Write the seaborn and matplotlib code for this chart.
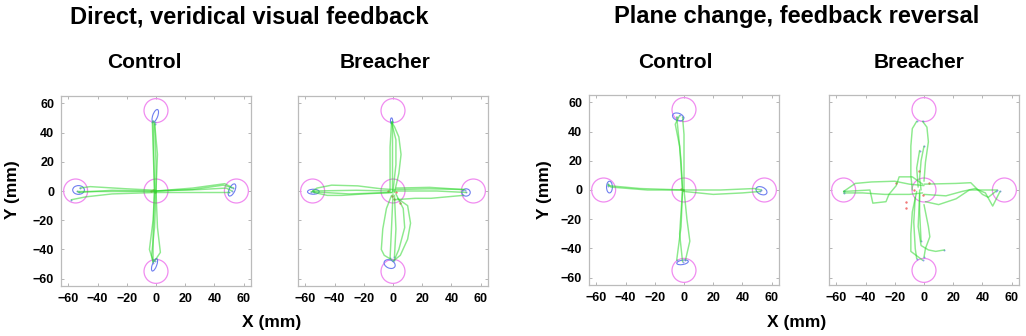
import numpy as np
import pandas as pd
import matplotlib
matplotlib.use("Agg")
import matplotlib.pyplot as plt
from matplotlib.patches import Circle, Ellipse
import seaborn as sns

# ---------------- data (in mm) ----------------
PANEL_TITLES = ["Control", "Breacher", "Control", "Breacher"]
GROUP_TITLES = ["Direct, veridical visual feedback", "Plane change, feedback reversal"]
TICKS = [-60, -40, -20, 0, 20, 40, 60]

# target circles: centres and radius
TARGET_X = [0, 0, 0, -55, 55]
TARGET_Y = [0, 55, -55, 0, 0]
TARGET_R = 8.2

# trajectories per panel: list of polylines [(x, y), ...]
traj_ctrl_direct = [
    [(-1, 0), (-1.5, 25), (-2, 48)],
    [(0, 0), (0, 20), (-1, 46)],
    [(-1, 0), (-2, 30), (-2.5, 47)],
    [(0, 0), (1, 25), (-1, 47)],
    [(-1, 0), (-2, -20), (-4.5, -40), (-2, -48)],
    [(0, 0), (1, -25), (3, -42), (-1, -48)],
    [(-1, 0), (-2, -30), (-2, -47)],
    [(0, 0), (-1, -25), (-3, -44), (-2, -49)],
    [(0, 0), (-25, 0), (-50, 0), (-54, 0)],
    [(0, 0.5), (-20, 1.5), (-45, 3), (-52, 2)],
    [(0, -1), (-30, -2), (-48, -4), (-58, -6)],
    [(-1, 0), (-30, 0.5), (-53, -1)],
    [(0, 0), (25, 2), (47, 5), (51, 3)],
    [(0, 0), (30, 1), (48, 2), (52, 0)],
    [(0, -1), (30, -1), (50, -1)],
    [(-1, 0), (25, 1), (46, 4), (53, 2)],
]
traj_breach_direct = [
    [(-1, 0), (-1, 25), (-1, 48)],
    [(1, -1), (4, 12), (5.5, 25), (4, 37), (1, 44), (-1, 47)],
    [(0, 0), (2, 18), (2, 35), (-1, 47)],
    [(-2, 0), (-2, 30), (-1, 47)],
    [(-1, -3), (-4.5, -12), (-7, -26), (-8, -40), (-6, -44), (-1, -47)],
    [(3, -5), (10, -10), (12, -22), (10, -33), (5, -44), (0, -48)],
    [(1, -3), (2, -26), (1, -45)],
    [(0, -2), (-1, -25), (-2, -46)],
    [(2, -2), (7, -12), (8, -25), (4, -40), (1, -47)],
    [(0, 1), (-8, 1.5), (-24, 3.5), (-42, 4), (-52, 2), (-55, 0)],
    [(0, -1), (-20, -2), (-35, -3), (-45, -3), (-54, -1)],
    [(-2, 0), (-25, 0.5), (-55, 0)],
    [(-1, -1), (-30, -2), (-56, -0.5)],
    [(1, -6), (15, -5), (26, -5), (48, -3)],
    [(1, 1), (25, 1.5), (49, 1)],
    [(0, 0), (30, 0), (50, -1)],
    [(2, 2), (25, 2.5), (48, 1)],
]
traj_ctrl_rev = [
    [(-1, 0), (-2, 20), (-4, 40), (-5, 50)],
    [(0, 0), (0, 25), (0, 38), (-1, 50)],
    [(-1, 0), (-3, 30), (-6, 45), (-3, 51)],
    [(-1, 0), (-2, -25), (-5, -48)],
    [(0, 0), (2, -20), (4, -35), (1, -48)],
    [(-1, 0), (-3, -30), (-1, -49)],
    [(-1, 0), (-25, 0), (-50, 2), (-52, 4)],
    [(0, 0), (-30, 1), (-52, 3)],
    [(0, 0), (25, 0), (48, 1), (53, 0)],
    [(0, -1), (20, -3), (40, -2), (52, -1)],
]
traj_breach_rev = [
    [(-8, 0), (-9, 10), (-9, 30), (-8, 42), (-5, 47)],
    [(0, 6), (1, 19), (3, 33), (2, 43), (-1, 47)],
    [(-2, 0), (-3, 8), (-2, 20), (0, 30)],
    [(-4, 2), (-5, 15), (-3, 27)],
    [(0, 3), (-10, 4), (-20, 6), (-36, 5.5), (-47, 4.5), (-55, -1)],
    [(-1, 4), (-8, 9), (-17, 9), (-19, 3), (-24, -3), (-26, -8), (-35, -9), (-37, 0), (-55, -1)],
    [(-1, -2), (-10, -3), (-27, -3), (-42, -2), (-55, -2)],
    [(0, 4), (22, 4.5), (32, 5), (35, 2), (40, -3), (44, -5), (49, -1)],
    [(0, -3), (15, -4), (26, -1), (35, 1), (42, -2), (47, -11), (52, -1)],
    [(1, -8), (10, -10), (22, -6), (31, 0), (50, 0)],
    [(-5, -1), (-8, -15), (-9, -30), (-9, -42), (-5, -45), (-1, -48)],
    [(-3, -3), (-4, -25), (-2, -38), (3, -41), (8, -42), (14, -41)],
    [(0, -10), (3, -25), (4, -32), (1, -40), (0, -46)],
    [(-6, -5), (-7, -22), (-6, -40), (-5, -47)],
    [(-3, 0), (-3, -15), (-2, -35)],
]
TRAJ = [traj_ctrl_direct, traj_breach_direct, traj_ctrl_rev, traj_breach_rev]

# endpoint ellipses per panel: (cx, cy, width, height, angle)
ell_ctrl_direct = [(-0.5, 51.5, 3.4, 9, -20), (-1, -50.5, 3, 9, -20), (-53, 0.7, 8, 6, 0), (52, 0.7, 4, 9, -25)]
ell_breach_direct = [(-1, 48, 1.5, 4, 0), (-2.3, -50, 8, 5.5, -25), (-54.5, -0.5, 8, 3.4, 0), (50, -1, 5.7, 5, 0)]
ell_ctrl_rev = [(-4, 50, 8, 5, -20), (-1, -49.5, 8, 3, 10), (-51, 2, 4, 8, 0), (53, -0.5, 8, 5, -25)]
ell_breach_rev = []
ELLIPSES = [ell_ctrl_direct, ell_breach_direct, ell_ctrl_rev, ell_breach_rev]

# start points (red) per panel
red_x = [[-3.4, -1, -2], [1, 4.6, -1, 2, -3.4], [-1, -2], [-3.4, -12.5, -19.4, -12.5, 3.4, -6.8, -1]]
red_y = [[0, -0.5, 1], [-5.7, -8, -3.4, -1, 0], [0, 1], [13, -12.5, 4.6, -8, 4.6, 0, -3.4]]

# ---------------- figure ----------------
sns.set_theme(style="white")
plt.rcParams["font.family"] = ["Liberation Sans", "DejaVu Sans"]
plt.rcParams["text.color"] = "black"

fig = plt.figure(figsize=(10.26, 3.36), dpi=100)
W, H = 1026, 336
boxes = [(61, 96), (298, 96), (589, 95), (829, 95)]
size = 190

for i, (lx, ty) in enumerate(boxes):
    ax = fig.add_axes([lx / W, 1 - (ty + size) / H, size / W, size / H])
    rows = []
    for k, tr in enumerate(TRAJ[i]):
        for (x, y) in tr:
            rows.append({"x": x, "y": y, "traj": k})
    df = pd.DataFrame(rows)
    sns.lineplot(data=df, x="x", y="y", units="traj", estimator=None, sort=False,
                 color="#2fd82f", alpha=0.55, lw=1.05, ax=ax, legend=False)
    for cx, cy in zip(TARGET_X, TARGET_Y):
        ax.add_patch(Circle((cx, cy), TARGET_R, fill=False, ec="#f08cf0", lw=0.9))
    for (cx, cy, w, h, a) in ELLIPSES[i]:
        ax.add_patch(Ellipse((cx, cy), w, h, angle=a, fill=False, ec="#6e7ef0", lw=0.8))
    ends = pd.DataFrame({"x": [tr[-1][0] for tr in TRAJ[i]], "y": [tr[-1][1] for tr in TRAJ[i]]})
    sns.scatterplot(data=ends, x="x", y="y", color="#7788ee", s=2, ax=ax, linewidth=0, alpha=0.8)
    reds = pd.DataFrame({"x": red_x[i], "y": red_y[i]})
    sns.scatterplot(data=reds, x="x", y="y", color="#ee5555", s=3, ax=ax, linewidth=0, alpha=0.8)

    ax.set_xlim(-65, 65)
    ax.set_ylim(-65, 65)
    ax.set_xticks(TICKS)
    ax.set_yticks(TICKS)
    ax.set_xlabel("")
    ax.set_ylabel("")
    ax.tick_params(direction="in", length=2, width=0.6, color="#aaaaaa", labelcolor="black",
                   labelsize=9, pad=5, bottom=True, left=True, top=True, right=True)
    for lab in ax.get_xticklabels() + ax.get_yticklabels():
        lab.set_fontweight("bold")
    if i in (1, 3):
        ax.set_yticklabels([])
    for s in ax.spines.values():
        s.set_color("#bbbbbb")
        s.set_linewidth(0.9)

# texts
fig.text(249 / W, 1 - 17 / H, GROUP_TITLES[0], ha="center", va="center", fontsize=17, fontweight="bold")
fig.text(797 / W, 1 - 17 / H, GROUP_TITLES[1], ha="center", va="center", fontsize=17, fontweight="bold")
for tx, t in zip([144.5, 385.5, 675.5, 919], PANEL_TITLES):
    fig.text(tx / W, 1 - 62 / H, t, ha="center", va="center", fontsize=15, fontweight="bold")
for yx in [13, 545]:
    fig.text(yx / W, 1 - 190 / H, "Y (mm)", ha="center", va="center", rotation=90,
             fontsize=12.5, fontweight="bold")
for xx in [272, 797]:
    fig.text(xx / W, 1 - 322 / H, "X (mm)", ha="center", va="center", fontsize=12.5, fontweight="bold")

fig.savefig("out.png", dpi=100, facecolor="white")
